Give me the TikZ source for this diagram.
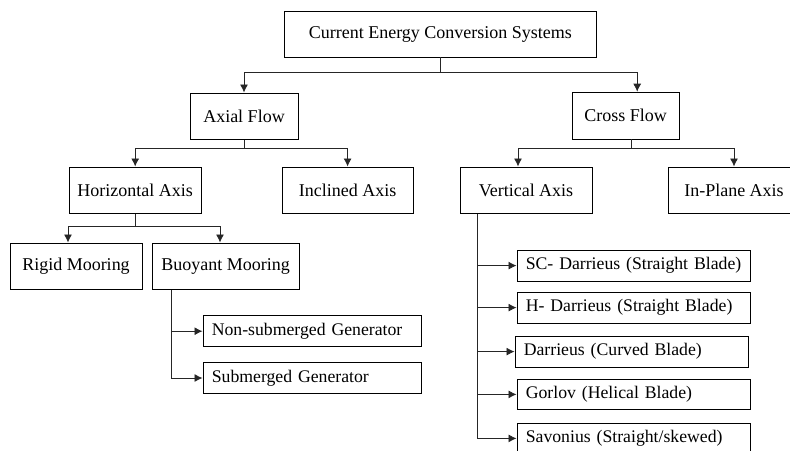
\documentclass[tikz,border=0pt]{standalone}
\usepackage{fontspec}
\setmainfont{Liberation Serif}
\usetikzlibrary{shapes,arrows.meta,positioning}

\begin{document}
\begin{tikzpicture}[>={Latex[length=2mm,width=2mm]},
    box/.style={draw, line width=0.7pt, minimum height=1.17cm, align=center, inner sep=2pt, font=\fontsize{12.8}{14}\selectfont},
    leaf/.style={draw, line width=0.7pt, minimum height=0.77cm, text width=#1, align=left, inner xsep=0.22cm, inner ysep=2pt, font=\fontsize{12.6}{14}\selectfont},
    link/.style={->, line width=0.6pt, black!85}]
        \useasboundingbox (0,0) rectangle (19.75,-11.25);

        % Root
        \node[box, minimum width=7.78cm, minimum height=1.15cm] (root) at (11.01,-0.85) {Current Energy Conversion Systems};

        % Flow types
        \node[box, minimum width=2.7cm] (axial) at (6.1,-2.91) {Axial Flow};
        \node[box, minimum width=2.68cm] (cross) at (15.64,-2.89) {Cross Flow};

        % Axes
        \node[box, minimum width=3.3cm] (horiz) at (3.38,-4.76) {Horizontal Axis};
        \node[box, minimum width=3.28cm] (incl) at (8.69,-4.76) {Inclined Axis};
        \node[box, minimum width=3.3cm] (vert) at (13.15,-4.76) {Vertical Axis};
        \node[box, minimum width=3.3cm] (inplane) at (18.35,-4.76) {In-Plane Axis};

        % Moorings
        \node[box, minimum width=3.3cm] (rigid) at (1.9,-6.66) {Rigid Mooring};
        \node[box, minimum width=3.68cm] (buoy) at (5.64,-6.66) {Buoyant Mooring};

        % Generators
        \node[leaf=5.01cm] (nonsub) at (7.8,-8.28) {Non-submerged Generator};
        \node[leaf=5.01cm] (sub) at (7.8,-9.45) {Submerged Generator};

        % Vertical axis turbines
        \node[leaf=5.39cm] (sc) at (15.84,-6.64) {SC- Darrieus (Straight Blade)};
        \node[leaf=5.39cm] (hd) at (15.84,-7.69) {H- Darrieus (Straight Blade)};
        \node[leaf=5.39cm] (darr) at (15.79,-8.79) {Darrieus (Curved Blade)};
        \node[leaf=5.39cm] (gorlov) at (15.84,-9.86) {Gorlov (Helical Blade)};
        \node[leaf=5.39cm] (savon) at (15.84,-10.96) {Savonius (Straight/skewed)};

        % Tree links
        \draw[link] (root.south) -- ++(0,-0.37) -| (axial.north);
        \draw[link] (root.south) -- ++(0,-0.37) -| ([xshift=0.29cm]cross.north);
        \draw[link] (axial.south) -- ++(0,-0.2) -| (horiz.north);
        \draw[link] (axial.south) -- ++(0,-0.2) -| (incl.north);
        \draw[link] ([xshift=0.14cm]cross.south) -- ++(0,-0.22) -| ([xshift=-0.2cm]vert.north);
        \draw[link] ([xshift=0.14cm]cross.south) -- ++(0,-0.22) -| (inplane.north);
        \draw[link] (horiz.south) -- ++(0,-0.3) -| ([xshift=-0.2cm]rigid.north);
        \draw[link] (horiz.south) -- ++(0,-0.3) -| ([xshift=-0.14cm]buoy.north);

        % Side branches
        \draw[link] ([xshift=0.5cm]buoy.south west) |- (nonsub.west);
        \draw[link] ([xshift=0.5cm]buoy.south west) |- (sub.west);
        \foreach \t in {sc,hd,darr,gorlov,savon}
            \draw[link] ([xshift=0.45cm]vert.south west) |- (\t.west);
    \end{tikzpicture}
\end{document}
